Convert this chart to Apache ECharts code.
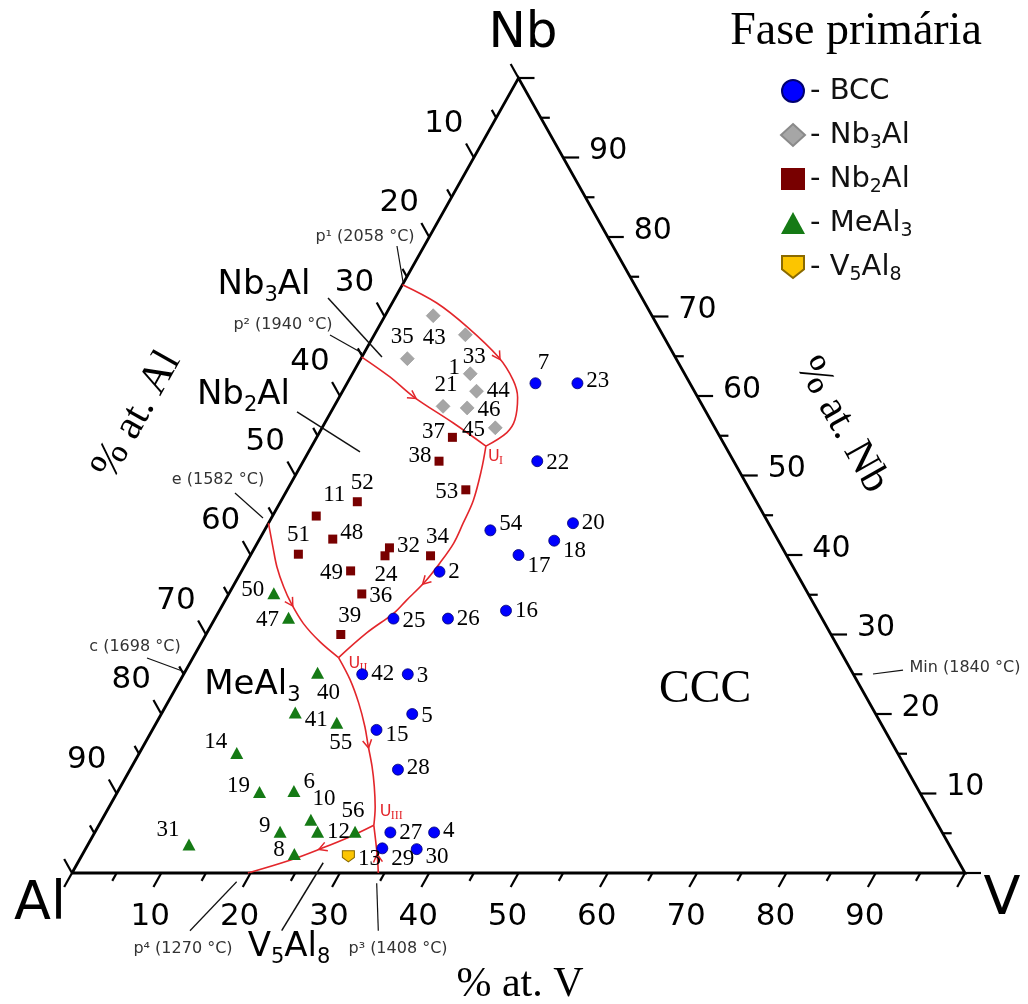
<!DOCTYPE html>
<html>
<head>
<meta charset="utf-8">
<title>Sistema Al–Nb–V – fase primária</title>
<script src="https://cdn.jsdelivr.net/npm/echarts@6/dist/echarts.min.js"></script>
<style>
  html, body { margin: 0; padding: 0; background: #fff; }
  #chart { width: 1028px; height: 1004px; }
</style>
</head>
<body>
<div id="chart"></div>
<script>
// Alloy compositions in at.%: [alloy number, %V, %Nb]   (%Al = 100 - V - Nb)
const bccAlloys = [
  ['7', 21.1, 61.6], ['23', 25.8, 61.6], ['22', 26.2, 51.8], ['54', 25.3, 43.1],
  ['20', 34.1, 44.0], ['18', 33.1, 41.8], ['17', 30.0, 40.0], ['2', 22.2, 37.9],
  ['16', 32.1, 33.0], ['25', 20.0, 32.0], ['26', 26.1, 32.0], ['42', 20.0, 25.0],
  ['3', 25.1, 25.0], ['5', 28.1, 20.0], ['15', 25.1, 18.0], ['28', 30.0, 13.0],
  ['27', 33.1, 5.1], ['4', 38.0, 5.1], ['29', 33.2, 3.1], ['30', 37.1, 3.0]
];
const nb3alAlloys = [
  ['43', 5.4, 70.1], ['33', 10.2, 67.7], ['35', 5.2, 64.7], ['1', 13.2, 62.8],
  ['44', 15.0, 60.6], ['21', 12.2, 58.7], ['46', 15.0, 58.5], ['45', 19.4, 56.0]
];
const nb2alAlloys = [
  ['37', 15.2, 54.8], ['38', 15.2, 51.8], ['53', 20.0, 48.2], ['52', 8.6, 46.7],
  ['11', 4.9, 44.9], ['48', 8.2, 42.0], ['51', 5.3, 40.1], ['32', 15.1, 40.9],
  ['24', 15.1, 39.9], ['34', 20.2, 39.9], ['49', 12.2, 38.0], ['36', 14.9, 35.1],
  ['39', 15.1, 30.0]
];
const meal3Alloys = [
  ['50', 5.0, 35.2], ['47', 8.2, 32.1], ['40', 14.9, 25.2], ['41', 14.9, 20.2],
  ['55', 20.2, 18.9], ['14', 10.9, 15.1], ['19', 15.9, 10.2], ['6', 19.7, 10.3],
  ['10', 23.4, 6.7], ['9', 20.7, 5.2], ['12', 24.9, 5.2], ['56', 29.1, 5.2],
  ['31', 11.3, 3.6], ['8', 23.7, 2.4]
];
const v5al8Alloys = [['13', 29.9, 2.1]];

// Liquidus valleys, [%V, %Nb], listed in the direction of falling temperature
const valleyP1 = [[0, 74], [5.0, 71.7], [9.9, 68.7], [15.3, 64.9], [18.4, 62.0], [20.0, 59.8], [21.1, 57.0], [21.0, 55.4], [19.5, 53.7]];
const valleyP2 = [[0, 64.9], [4.4, 62.4], [8.3, 59.9], [14.4, 56.6], [19.5, 53.7]];
const valleyU1U2 = [[19.5, 53.7], [20.5, 50.7], [21.5, 46.9], [21.8, 44.0], [22.0, 41.5], [21.7, 39.0], [21.2, 36.6], [20.3, 34.3], [19.7, 32.7], [17.9, 30.2], [16.3, 27.1]];
const valleyE = [[0, 44], [2.0, 41.0], [3.7, 38.5], [5.7, 36.0], [7.6, 33.9], [10.2, 31.4], [13.2, 29.1], [16.3, 27.1]];
const valleyU2U3 = [[16.3, 27.1], [19.0, 24.3], [21.4, 21.4], [23.6, 18.4], [25.1, 16.1], [26.9, 13.4], [28.4, 10.9], [29.8, 8.3], [30.8, 6.0]];
const valleyP3 = [[34.3, 0], [33.2, 2.0], [30.8, 6.0]];
const valleyU3P4 = [[30.8, 6.0], [28.9, 4.6], [26.4, 3.1], [23.6, 1.6], [19.7, 0]];

// Flow arrows: [valley, index of the vertex carrying the arrow]
const valleyArrows = [[valleyP1, 3], [valleyP2, 2], [valleyU1U2, 6], [valleyE, 4], [valleyU2U3, 4], [valleyP3, 1], [valleyU3P4, 2]];

const axisTickLabels = [10, 20, 30, 40, 50, 60, 70, 80, 90];

// phase names with their subscripts written as rich-text tokens
const phaseRich = { 'BCC': 'BCC', 'Nb₃Al': 'Nb{s|3}Al', 'Nb₂Al': 'Nb{s|2}Al', 'MeAl₃': 'MeAl{s|3}', 'V₅Al₈': 'V{s|5}Al{s|8}' };

const RED = '#e3262b';
const SANS = '"DejaVu Sans", Verdana, sans-serif';
const SERIF = '"Liberation Serif", "Times New Roman", serif';

// ternary (V, Nb) -> cartesian axis units (x: 0..100 along the base, y: %Nb)
function tern(v, nb) { return [v + nb / 2, nb]; }

// where each alloy number sits around its marker: [position, dx, dy]
const labelPlacement = {
  '43': ['bottom', 1, 0], '33': ['bottom', 9, 0], '35': ['top', -5, 0], '1': ['left', 0, -6],
  '44': ['right', 0, 0], '21': ['top', 3, 0], '46': ['right', 0, 2], '45': ['left', 0, 2],
  '37': ['left', 0, -5], '38': ['left', 0, -5], '53': ['left', 0, 2], '52': ['top', 5, 0],
  '11': ['top', 18, -2], '48': ['right', 0, -6], '51': ['top', 0, 0], '32': ['right', 0, -2],
  '24': ['bottom', 1, 0], '34': ['top', 7, 0], '49': ['left', 0, 2], '36': ['right', 0, 2], '39': ['top', 9, 0],
  '7': ['top', 8, 0], '23': ['right', 0, -2], '22': ['right', 0, 2], '54': ['right', 0, -6], '20': ['right', 0, 0],
  '18': ['right', 0, 10], '17': ['right', 0, 11], '2': ['right', 0, 0], '16': ['right', 0, 0], '25': ['right', 0, 2],
  '26': ['right', 0, 0], '42': ['right', 0, 0], '3': ['right', 0, 2], '5': ['right', 0, 2], '15': ['right', 0, 5],
  '28': ['right', 0, -2], '27': ['right', 0, 0], '4': ['right', 0, -2], '29': ['right', 0, 11], '30': ['right', 0, 8],
  '50': ['left', 0, -3], '47': ['left', 0, 2], '40': ['bottom', 11, 0], '41': ['right', 0, 8], '55': ['bottom', 4, 0],
  '14': ['left', 0, -11], '19': ['left', 0, -6], '6': ['right', 0, -9], '10': ['top', 13, 0], '9': ['left', 0, -6],
  '12': ['right', 0, 0], '56': ['top', -2, 0], '31': ['left', 0, -14], '8': ['left', 0, -4],
  '13': ['right', 0, 3]
};

function phaseSeries(name, list, symbol, size, itemStyle) {
  return {
    name, type: 'scatter', symbol, symbolSize: size, z: 6, clip: false,
    itemStyle: Object.assign({ opacity: 1 }, itemStyle),
    emphasis: { disabled: true },
    label: { show: true, formatter: '{b}', fontFamily: SERIF, fontSize: 23, color: '#000', opacity: 1, distance: 3 },
    data: list.map(([id, v, nb]) => {
      const pl = labelPlacement[id] || ['right', 0, 0];
      return { name: id, value: tern(v, nb), label: { position: pl[0], offset: [pl[1], pl[2]] } };
    })
  };
}

function valleySeries(points) {
  return {
    type: 'line', data: points.map(p => tern(p[0], p[1])), smooth: 0.35, symbol: 'none',
    lineStyle: { color: RED, width: 1.6 }, silent: true, clip: false, z: 3, legendHoverLink: false
  };
}

// frame ticks, tick labels, leader lines, arrows and region names
function renderDecor(params, api) {
  const P = (v, nb) => api.coord(tern(v, nb));
  const A = (x, y) => api.coord([x, y]);
  const cAl = P(0, 0), cV = P(100, 0), cNb = P(0, 100);
  const unit = (a, b) => { const dx = b[0] - a[0], dy = b[1] - a[1], L = Math.hypot(dx, dy); return [dx / L, dy / L]; };
  const outBottom = unit(cNb, cAl), outLeft = unit(cV, cNb), outRight = [1, 0];
  const kids = [];
  const seg = (p, q, w, color) => kids.push({ type: 'line', shape: { x1: p[0], y1: p[1], x2: q[0], y2: q[1] }, style: { stroke: color || '#000', lineWidth: w } });
  const txt = (p, s, font, extra) => kids.push({ type: 'text', x: p[0], y: p[1], style: Object.assign({ text: s, font, fill: '#000', align: 'center', verticalAlign: 'middle' }, extra || {}) });

  for (let t = 0; t <= 100; t += 5) {
    const len = t % 10 === 0 ? 16 : 9;
    [[P(t, 0), outBottom], [P(0, 100 - t), outLeft], [P(100 - t, t), outRight]].forEach(([p, d]) => {
      seg(p, [p[0] + d[0] * len, p[1] + d[1] * len], 2.2);
    });
  }
  axisTickLabels.forEach(t => {
    const b = P(t, 0), l = P(0, 100 - t), r = P(100 - t, t);
    txt([b[0] - 11, b[1] + 44], String(t), '31px ' + SANS);
    txt([l[0] - 30, l[1] - 34], String(t), '31px ' + SANS);
    txt([r[0] + 45, r[1] - 6], String(t), '30px ' + SANS);
  });

  // arrows on the valleys
  valleyArrows.forEach(([line, i]) => {
    const p = P(line[i][0], line[i][1]), q = P(line[i + 1][0], line[i + 1][1]);
    const d = unit(p, q), n = [-d[1], d[0]];
    const tip = [p[0] + d[0] * 3, p[1] + d[1] * 3];
    kids.push({ type: 'polyline', shape: { points: [
      [tip[0] - d[0] * 8 + n[0] * 4.5, tip[1] - d[1] * 8 + n[1] * 4.5], tip,
      [tip[0] - d[0] * 8 - n[0] * 4.5, tip[1] - d[1] * 8 - n[1] * 4.5]] },
      style: { stroke: RED, lineWidth: 1.5, fill: null } });
  });

  // invariant labels U_I, U_II, U_III next to their junctions
  const uLabel = (pt, dx, dy, sub) => {
    const p = P(pt[0], pt[1]);
    txt([p[0] + dx, p[1] + dy], 'U', '16px ' + SANS, { fill: RED, align: 'left' });
    txt([p[0] + dx + 11, p[1] + dy + 4], sub, '12px ' + SERIF, { fill: RED, align: 'left' });
  };
  uLabel(valleyU1U2[0], 2, 11, 'I');
  uLabel(valleyU2U3[0], 10, 6, 'II');
  uLabel(valleyU2U3[valleyU2U3.length - 1], 6, -13, 'III');

  // leader lines (axis units)
  const leaders = [
    [[36.39, 78.87], [37.07, 74.34], 1.2], [[28.67, 72.33], [34.71, 64.91], 1.5],
    [[28.89, 67.67], [32.47, 65.41], 1.2], [[25.20, 57.99], [32.25, 52.96], 1.5],
    [[18.25, 47.80], [21.39, 44.65], 1.2], [[8.40, 27.04], [12.65, 25.28], 1.2],
    [[89.70, 25.03], [93.06, 25.53], 1.2], [[13.21, -7.26], [18.44, -1.10], 1.2],
    [[23.48, -7.26], [28.13, 1.29], 1.5], [[34.30, -7.26], [34.12, -1.30], 1.2]
  ];
  leaders.forEach(([a, b, w]) => seg(A(a[0], a[1]), A(b[0], b[1]), w, '#111'));

  const small = '16px ' + SANS;
  const note = { fill: '#333' };
  txt(A(32.81, 80.0), 'p¹ (2058 °C)', small, note);
  txt(A(23.63, 68.93), 'p² (1940 °C)', small, note);
  txt(A(16.35, 49.43), 'e (1582 °C)', small, note);
  txt(A(7.05, 28.43), 'c (1698 °C)', small, note);
  txt(A(100.0, 25.79), 'Min (1840 °C)', small, note);
  txt(A(12.43, -9.6), 'p⁴ (1270 °C)', small, note);
  txt(A(36.51, -9.6), 'p³ (1408 °C)', small, note);

  const big = (size) => ({ rich: { s: { font: Math.round(size * 0.62) + 'px ' + SANS, fill: '#000', verticalAlign: 'bottom', lineHeight: Math.round(size * 0.62) } }, lineHeight: Math.round(size * 1.25) });
  txt(A(21.5, 73.96), phaseRich['Nb₃Al'], '34px ' + SANS, big(34));
  txt(A(19.2, 60.13), phaseRich['Nb₂Al'], '34px ' + SANS, big(34));
  txt(A(24.30, -9.3), phaseRich['V₅Al₈'], '34px ' + SANS, big(34));
  txt(A(20.2, 23.65), phaseRich['MeAl₃'], '34px ' + SANS, big(34));
  txt(A(70.89, 23.02), 'CCC', '46px ' + SERIF);

  return { type: 'group', children: kids };
}

const chart = echarts.init(document.getElementById('chart'));
chart.setOption({
  animation: false,
  backgroundColor: '#fff',
  textStyle: { fontFamily: SANS },
  grid: { left: 72, right: 63, top: 78, bottom: 131 },
  xAxis: { type: 'value', min: 0, max: 100, show: false },
  yAxis: { type: 'value', min: 0, max: 100, show: false },
  legend: {
    orient: 'vertical', left: 775, top: 68, itemWidth: 24, itemHeight: 22, itemGap: 8,
    selectedMode: false,
    formatter: n => '- ' + phaseRich[n],
    textStyle: {
      fontFamily: SANS, fontSize: 29, color: '#111', lineHeight: 36,
      rich: { s: { fontFamily: SANS, fontSize: 19, color: '#111', lineHeight: 19, verticalAlign: 'bottom' } }
    },
    data: ['BCC', 'Nb₃Al', 'Nb₂Al', 'MeAl₃', 'V₅Al₈']
  },
  graphic: [
    { type: 'text', x: 856, y: 32, style: { text: 'Fase primária', font: '46px ' + SERIF, fill: '#000', align: 'center', verticalAlign: 'middle' } },
    { type: 'text', x: 523, y: 34, style: { text: 'Nb', font: '50px ' + SANS, fill: '#000', align: 'center', verticalAlign: 'middle' } },
    { type: 'text', x: 40, y: 905, style: { text: 'Al', font: '54px ' + SANS, fill: '#000', align: 'center', verticalAlign: 'middle' } },
    { type: 'text', x: 1002, y: 900, style: { text: 'V', font: '54px ' + SANS, fill: '#000', align: 'center', verticalAlign: 'middle' } },
    { type: 'text', x: 520, y: 985, style: { text: '% at. V', font: '42px ' + SERIF, fill: '#000', align: 'center', verticalAlign: 'middle' } },
    { type: 'text', x: 137, y: 415, rotation: 1.058, style: { text: '% at. Al', font: '42px ' + SERIF, fill: '#000', align: 'center', verticalAlign: 'middle' } },
    { type: 'text', x: 842, y: 425, rotation: -1.058, style: { text: '% at. Nb', font: '42px ' + SERIF, fill: '#000', align: 'center', verticalAlign: 'middle' } }
  ],
  series: [
    {
      type: 'line', data: [tern(0, 0), tern(100, 0), tern(0, 100), tern(0, 0)], symbol: 'none',
      lineStyle: { color: '#000', width: 2.8, join: 'miter' }, silent: true, clip: false, z: 2
    },
    valleySeries(valleyP1), valleySeries(valleyP2), valleySeries(valleyU1U2), valleySeries(valleyE),
    valleySeries(valleyU2U3), valleySeries(valleyP3), valleySeries(valleyU3P4),
    { type: 'custom', coordinateSystem: 'cartesian2d', data: [[0, 0]], renderItem: renderDecor, silent: true, clip: false, z: 4 },
    phaseSeries('BCC', bccAlloys, 'circle', 11, { color: '#0000ff', borderColor: '#000070', borderWidth: 0.8 }),
    phaseSeries('Nb₃Al', nb3alAlloys, 'diamond', 14, { color: '#a6a6a6', borderColor: '#8a8a8a', borderWidth: 0.5 }),
    phaseSeries('Nb₂Al', nb2alAlloys, 'rect', 9, { color: '#780000' }),
    phaseSeries('MeAl₃', meal3Alloys, 'triangle', [13, 12], { color: '#157a15' }),
    phaseSeries('V₅Al₈', v5al8Alloys, 'path://M0,0 L10,0 L10,6 L5,10 L0,6 Z', [12, 11], { color: '#fcc500', borderColor: '#8a6a00', borderWidth: 1 })
  ]
});
</script>
</body>
</html>
